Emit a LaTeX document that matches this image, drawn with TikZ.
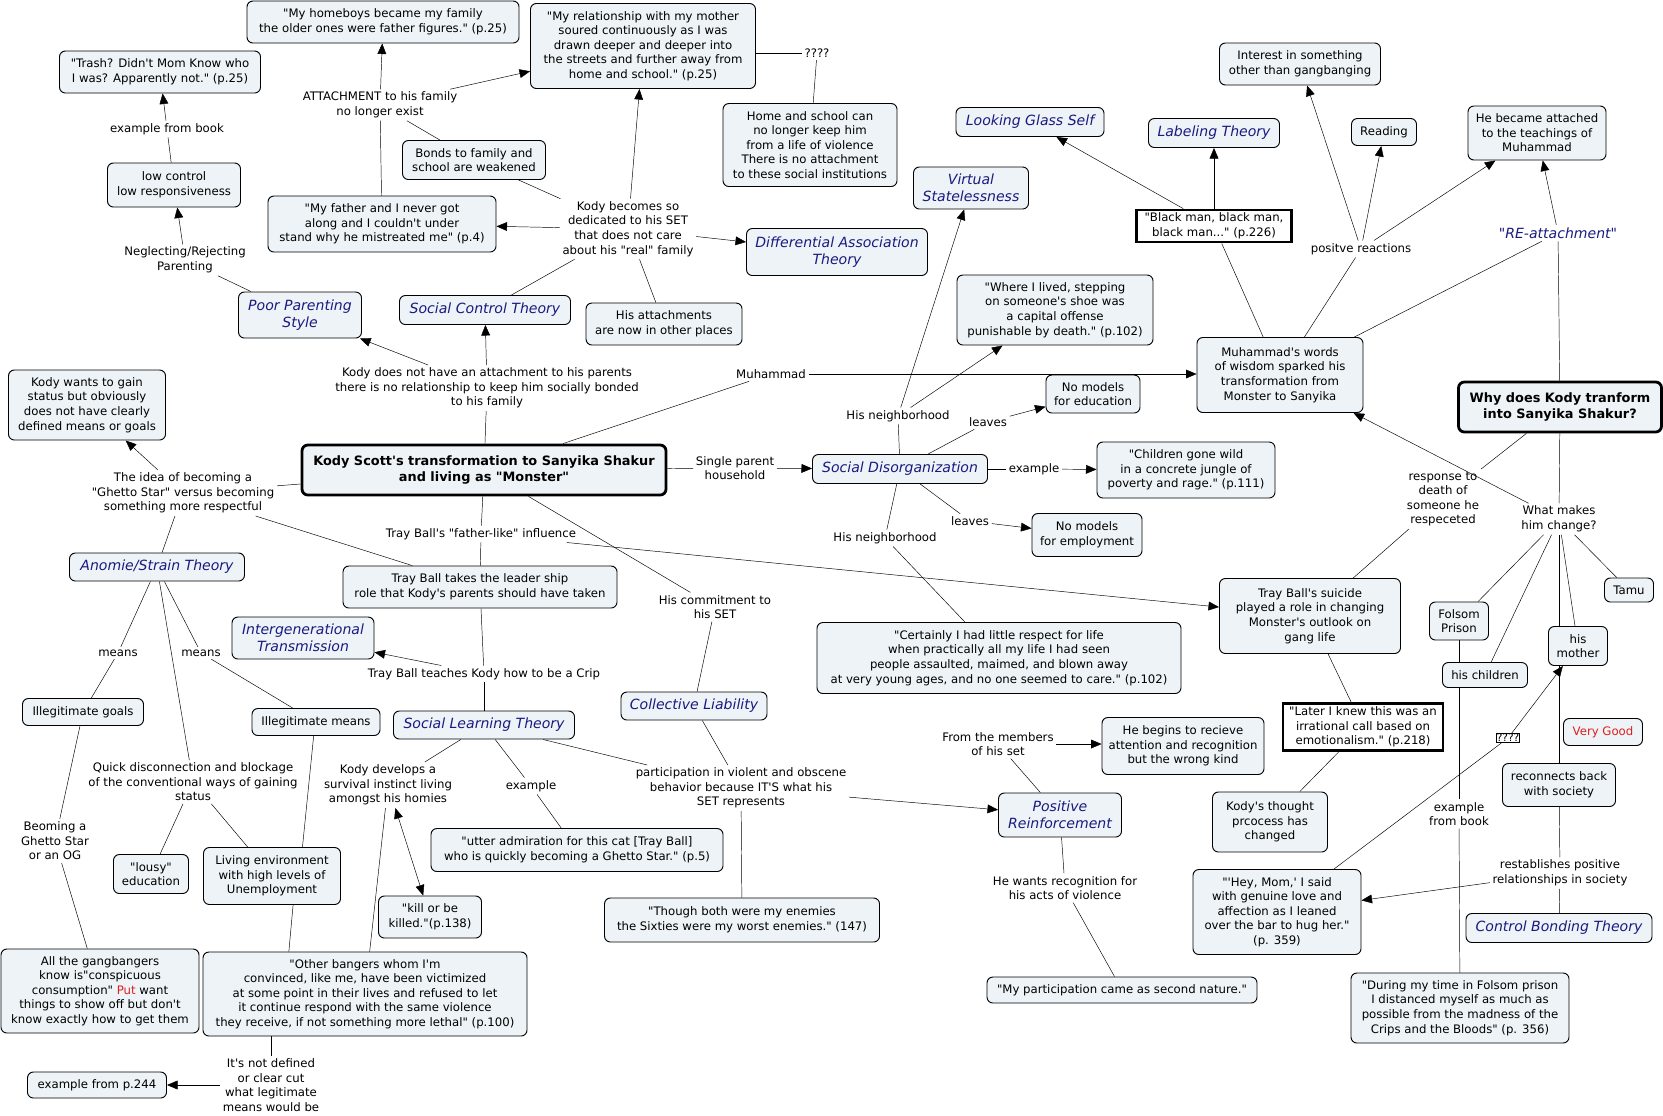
\documentclass[tikz,border=0pt]{standalone}
\usepackage{fontspec}
\setmainfont{DejaVu Sans}[Ligatures=TeXOff]
\usetikzlibrary{arrows.meta,backgrounds}
\definecolor{cmapfill}{RGB}{237,243,246}
\definecolor{cmapblue}{RGB}{26,26,128}
\definecolor{cmapred}{RGB}{222,30,30}
\begin{document}
\begin{tikzpicture}[x=0.03cm, y=-0.03cm, line width=0.8pt,
  every node/.style={font=\fontsize{10}{12.4}\selectfont, align=center},
  sz/.style 2 args={minimum width=#1*0.03cm, minimum height=#2*0.03cm},
  box/.style={draw, rounded corners=5pt, fill=cmapfill, inner sep=2pt},
  theory/.style={box, text=cmapblue, font=\fontsize{12}{14.7}\selectfont\itshape},
  mainbox/.style={box, line width=2.4pt, font=\fontsize{11}{13.4}\selectfont\bfseries},
  quotebox/.style={draw, line width=2.4pt, fill=white, inner sep=2pt},
  lbl/.style={inner sep=2pt},
  link/.style={-{Triangle[length=9pt,width=7.5pt]}}]
\useasboundingbox (0,0) rectangle (1663,1115);

\node[mainbox, sz={364}{50}] (kody) at (484,470) {Kody Scott's transformation to Sanyika Shakur\\and living as "Monster"};
\node[mainbox, sz={203}{50}] (why) at (1560,407) {Why does Kody tranform\\into Sanyika Shakur?};

\node[box, sz={272}{42}] (homeboys) at (383,22) {"My homeboys became my family\\the older ones were father figures." (p.25)};
\node[box, sz={201}{42}] (trash) at (160,72) {"Trash? Didn't Mom Know who\\I was? Apparently not." (p.25)};
\node[box, sz={133}{44}] (lowctl) at (174,185) {low control\\low responsiveness};
\node[box, sz={225}{85}] (mother) at (643,46) {"My relationship with my mother\\soured continuously as I was\\drawn deeper and deeper into\\the streets and further away from\\home and school." (p.25)};
\node[box, sz={228}{56}] (father) at (382,224) {"My father and I never got\\along and I couldn't under\\stand why he mistreated me" (p.4)};
\node[box, sz={143}{39}] (bonds) at (474,160) {Bonds to family and\\school are weakened};
\node[box, sz={174}{83}] (homeschool) at (810,145) {Home and school can\\no longer keep him\\from a life of violence\\There is no attachment\\to these social institutions};
\node[box, sz={156}{42}] (attach) at (664,324) {His attachments\\are now in other places};
\node[box, sz={196}{70}] (where) at (1055,310) {"Where I lived, stepping\\on someone's shoe was\\a capital offense\\punishable by death." (p.102)};
\node[box, sz={161}{42}] (interest) at (1300,64) {Interest in something\\other than gangbanging};
\node[box, sz={65}{27}] (reading) at (1384,132) {Reading};
\node[box, sz={138}{54}] (teachings) at (1537,133) {He became attached\\to the teachings of\\Muhammad};
\node[box, sz={166}{75}] (muhwords) at (1280,375) {Muhammad's words\\of wisdom sparked his\\transformation from\\Monster to Sanyika};
\node[box, sz={157}{70}] (kodywants) at (87,405) {Kody wants to gain\\status but obviously\\does not have clearly\\defined means or goals};
\node[box, sz={274}{42}] (trayball) at (480,587) {Tray Ball takes the leader ship\\role that Kody's parents should have taken};
\node[box, sz={121}{27}] (illgoals) at (83,712) {Illegitimate goals};
\node[box, sz={128}{27}] (illmeans) at (316,722) {Illegitimate means};
\node[box, sz={94}{38}] (noedu) at (1093,394) {No models\\for education};
\node[box, sz={178}{56}] (children) at (1186,470) {"Children gone wild\\in a concrete jungle of\\poverty and rage." (p.111)};
\node[box, sz={110}{43}] (noemp) at (1087,535) {No models\\for employment};
\node[box, sz={364}{71}] (certainly) at (999,658) {"Certainly I had little respect for life\\when practically all my life I had seen\\people assaulted, maimed, and blown away\\at very young ages, and no one seemed to care." (p.102)};
\node[box, sz={162}{57}] (begins) at (1183,746) {He begins to recieve\\attention and recognition\\but the wrong kind};
\node[box, sz={181}{75}] (suicide) at (1310,616) {Tray Ball's suicide\\played a role in changing\\Monster's outlook on\\gang life};
\node[box, sz={49}{24}] (tamu) at (1629,590) {Tamu};
\node[box, sz={59}{38}] (folsom) at (1459,621) {Folsom\\Prison};
\node[box, sz={85}{25}] (kids) at (1485,675) {his children};
\node[box, sz={59}{39}] (hismother) at (1578,646) {his\\mother};
\node[box, sz={79}{27}, text=cmapred] (verygood) at (1603,732) {Very Good};
\node[box, sz={115}{60}] (thought) at (1270,822) {Kody's thought\\prcocess has\\changed};
\node[box, sz={168}{85}] (heymom) at (1277,912) {"'Hey, Mom,' I said\\with genuine love and\\affection as I leaned\\over the bar to hug her."\\(p. 359)};
\node[box, sz={113}{43}] (reconnect) at (1559,785) {reconnects back\\with society};
\node[box, sz={218}{70}] (during) at (1460,1008) {"During my time in Folsom prison\\I distanced myself as much as\\possible from the madness of the\\Crips and the Bloods" (p. 356)};
\node[box, sz={292}{43}] (utter) at (577,850) {"utter admiration for this cat [Tray Ball]\\who is quickly becoming a Ghetto Star." (p.5)};
\node[box, sz={275}{44}] (though) at (742,920) {"Though both were my enemies\\the Sixties were my worst enemies." (147)};
\node[box, sz={103}{42}] (killed) at (430,917) {"kill or be\\killed."(p.138)};
\node[box, sz={75}{39}] (lousy) at (151,874) {"lousy"\\education};
\node[box, sz={137}{57}] (livingenv) at (272,876) {Living environment\\with high levels of\\Unemployment};
\node[box, sz={198}{84}] (gangbangers) at (100,991) {All the gangbangers\\know is"conspicuous\\consumption" \textcolor{cmapred}{Put} want\\things to show off but don't\\know exactly how to get them};
\node[box, sz={324}{84}] (otherbangers) at (365,994) {"Other bangers whom I'm\\convinced, like me, have been victimized\\at some point in their lives and refused to let\\it continue respond with the same violence\\they receive, if not something more lethal" (p.100)};
\node[box, sz={139}{26}] (exp244) at (97,1085) {example from p.244};
\node[box, sz={270}{26}] (secondnature) at (1122,990) {"My participation came as second nature."};

\node[theory, sz={123}{46}] (poorpar) at (300,315) {Poor Parenting\\Style};
\node[theory, sz={171}{29}] (socctl) at (485,310) {Social Control Theory};
\node[theory, sz={181}{47}] (diffassoc) at (837,252) {Differential Association\\Theory};
\node[theory, sz={148}{29}] (lookglass) at (1030,122) {Looking Glass Self};
\node[theory, sz={115}{42}] (virtual) at (971,188) {Virtual\\Statelessness};
\node[theory, sz={131}{29}] (labeling) at (1214,133) {Labeling Theory};
\node[theory, sz={175}{29}] (socdis) at (900,469) {Social Disorganization};
\node[theory, sz={146}{28}] (collect) at (694,706) {Collective Liability};
\node[theory, sz={181}{28}] (soclearn) at (484,725) {Social Learning Theory};
\node[theory, sz={175}{28}] (anomie) at (157,567) {Anomie/Strain Theory};
\node[theory, sz={142}{42}] (intergen) at (303,638) {Intergenerational\\Transmission};
\node[theory, sz={123}{44}] (posreinf) at (1060,815) {Positive\\Reinforcement};
\node[theory, sz={186}{29}] (ctlbond) at (1559,928) {Control Bonding Theory};

\node[quotebox, sz={155}{32}] (blackman) at (1214,226) {"Black man, black man,\\black man..." (p.226)};
\node[quotebox, sz={160}{47}] (later) at (1363,727) {"Later I knew this was an\\irrational call based on\\emotionalism." (p.218)};

\node[lbl] (lattach) at (380,105) {ATTACHMENT to his family\\no longer exist};
\node[lbl] (lexbook) at (167,129) {example from book};
\node[lbl] (lneglect) at (185,260) {Neglecting/Rejecting\\Parenting};
\node[lbl] (lqmark) at (817,53) {????};
\node[lbl] (lnoattach) at (487,388) {Kody does not have an attachment to his parents\\there is no relationship to keep him socially bonded\\to his family};
\node[lbl] (ldedic) at (628,229) {Kody becomes so\\dedicated to his SET\\that does not care\\about his "real" family};
\node[lbl] (lmuh) at (771,374) {Muhammad};
\node[lbl] (lneigh1) at (898,416) {His neighborhood};
\node[lbl] (lleaves1) at (988,422) {leaves};
\node[lbl] (lexample1) at (1034,469) {example};
\node[lbl] (lleaves2) at (970,521) {leaves};
\node[lbl] (lneigh2) at (885,538) {His neighborhood};
\node[lbl] (lpositive) at (1361,249) {positve reactions};
\node[lbl, text=cmapblue, font=\fontsize{12}{14.7}\selectfont\itshape] (lreatt) at (1558,233) {"RE-attachment"};
\node[lbl] (lidea) at (183,493) {The idea of becoming a\\"Ghetto Star" versus becoming\\something more respectful};
\node[lbl] (lsingle) at (735,468) {Single parent\\household};
\node[lbl] (lfather) at (481,534) {Tray Ball's "father-like" influence};
\node[lbl] (lcommit) at (715,607) {His commitment to\\his SET};
\node[lbl] (lteaches) at (484,674) {Tray Ball teaches Kody how to be a Crip};
\node[lbl] (lmeans1) at (118,653) {means};
\node[lbl] (lmeans2) at (201,653) {means};
\node[lbl] (lquick) at (193,782) {Quick disconnection and blockage\\of the conventional ways of gaining\\status};
\node[lbl] (lbecoming) at (55,841) {Beoming a\\Ghetto Star\\or an OG};
\node[lbl] (lsurvival) at (388,785) {Kody develops a\\survival instinct living\\amongst his homies};
\node[lbl] (lexample2) at (531,786) {example};
\node[lbl] (lpartic) at (741,788) {participation in violent and obscene\\behavior because IT'S what his\\SET represents};
\node[lbl] (lmembers) at (998,744) {From the members\\of his set};
\node[lbl] (lrecog) at (1065,888) {He wants recognition for\\his acts of violence};
\node[lbl] (lnotdef) at (271,1085) {It's not defined\\or clear cut\\what legitimate\\means would be};
\node[lbl] (lresponse) at (1443,499) {response to\\death of\\someone he\\respeceted};
\node[lbl] (lwhatmakes) at (1559,519) {What makes\\him change?};
\node[lbl] (lexbook2) at (1459,814) {example\\from book};
\node[draw, fill=white, inner sep=0.6pt, font=\fontsize{9}{10}\selectfont] (lqm2) at (1508,738) {????};
\node[lbl] (lrestab) at (1560,873) {restablishes positive\\relationships in society};

\begin{scope}[on background layer]
\draw (lowctl) -- (lexbook);
\draw[link] (lexbook) -- (trash);
\draw (poorpar) -- (lneglect);
\draw[link] (lneglect) -- (lowctl);
\draw (father) -- (lattach);
\draw (bonds) -- (lattach);
\draw[link] (lattach) -- (homeboys);
\draw[link] (lattach) -- (mother);
\draw (lqmark) -- (lqmark -| mother.east);
\draw (lqmark) -- (homeschool);
\draw (kody) -- (lnoattach);
\draw[link] (lnoattach) -- (socctl);
\draw[link] (lnoattach) -- (poorpar);
\draw (socctl) -- (ldedic);
\draw (bonds) -- (ldedic);
\draw (ldedic) -- (attach);
\draw[link] (ldedic) -- (mother);
\draw[link] (ldedic) -- (father);
\draw[link] (ldedic) -- (diffassoc);
\draw (kody) -- (lmuh);
\draw[link] (lmuh) -- (lmuh -| muhwords.west);
\draw (kody) -- (lsingle);
\draw[link] (lsingle) -- (socdis);
\draw (socdis) -- (lneigh1);
\draw[link] (lneigh1) -- (virtual);
\draw[link] (lneigh1) -- (where);
\draw (socdis) -- (lleaves1);
\draw[link] (lleaves1) -- (noedu);
\draw (socdis) -- (lexample1);
\draw[link] (lexample1) -- (children);
\draw (socdis) -- (lleaves2);
\draw[link] (lleaves2) -- (noemp);
\draw (socdis) -- (lneigh2);
\draw (lneigh2) -- (certainly);
\draw (muhwords) -- (blackman);
\draw[link] (blackman) -- (lookglass);
\draw[link] (blackman) -- (labeling);
\draw (muhwords) -- (lpositive);
\draw[link] (lpositive) -- (interest);
\draw[link] (lpositive) -- (reading);
\draw[link] (lpositive) -- (teachings);
\draw (muhwords) -- (lreatt);
\draw[link] (lreatt) -- (teachings);
\draw (lreatt) -- (why);
\draw (kody) -- (lidea);
\draw[link] (lidea) -- (kodywants);
\draw (lidea) -- (anomie);
\draw (trayball) -- (lidea);
\draw (kody) -- (lfather);
\draw (lfather) -- (trayball);
\draw[link] (lfather) -- (suicide);
\draw (kody) -- (lcommit);
\draw (lcommit) -- (collect);
\draw (trayball) -- (lteaches);
\draw[link] (lteaches) -- (intergen);
\draw (lteaches) -- (soclearn);
\draw (anomie) -- (lmeans1);
\draw (lmeans1) -- (illgoals);
\draw (anomie) -- (lmeans2);
\draw (lmeans2) -- (illmeans);
\draw (anomie) -- (lquick);
\draw (lquick) -- (lousy);
\draw (lquick) -- (livingenv);
\draw ([xshift=-2pt]illmeans.south) -- ([xshift=26pt]livingenv.north);
\draw ([xshift=18pt]livingenv.south) -- ([xshift=-65pt]otherbangers.north);
\draw (illgoals) -- (lbecoming);
\draw (lbecoming) -- (gangbangers);
\draw (soclearn) -- (lsurvival);
\draw[{Triangle[length=9pt,width=7.5pt]}-{Triangle[length=9pt,width=7.5pt]}] (lsurvival) -- (killed);
\draw (lsurvival) -- (otherbangers);
\draw (soclearn) -- (lexample2);
\draw (lexample2) -- (utter);
\draw (soclearn) -- (lpartic);
\draw (collect) -- (lpartic);
\draw[link] (lpartic) -- (posreinf);
\draw (lpartic) -- (though);
\draw (posreinf) -- (lmembers);
\draw[link] (lmembers) -- (lmembers -| begins.west);
\draw (posreinf) -- (lrecog);
\draw (lrecog) -- (secondnature);
\draw (lnotdef) -- (lnotdef |- otherbangers.south);
\draw[link] (lnotdef) -- (exp244);
\draw (why) -- (lresponse);
\draw (lresponse) -- (suicide);
\draw (why) -- (lwhatmakes);
\draw[link] (lwhatmakes) -- (muhwords);
\draw (lwhatmakes) -- (folsom);
\draw (lwhatmakes) -- (kids);
\draw (lwhatmakes) -- (hismother);
\draw (lwhatmakes) -- (tamu);
\draw (lwhatmakes) -- (reconnect);
\draw (suicide) -- (later);
\draw (later) -- (thought);
\draw (folsom) -- (lexbook2);
\draw (lexbook2) -- (during);
\draw (heymom) -- (lqm2);
\draw[link] (lqm2) -- (hismother);
\draw (reconnect) -- (lrestab);
\draw[link] (lrestab) -- (heymom);
\draw (lrestab) -- (ctlbond);
\end{scope}
\end{tikzpicture}
\end{document}
